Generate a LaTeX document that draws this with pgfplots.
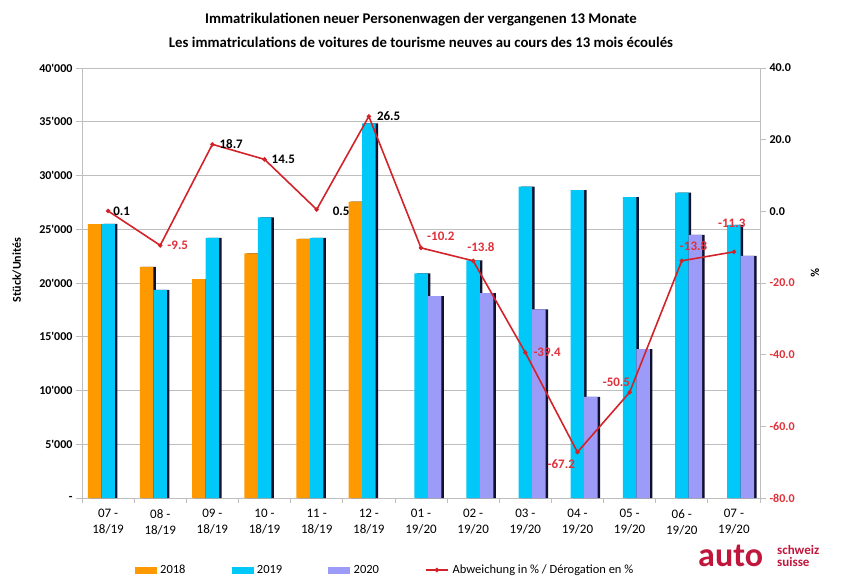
\documentclass[border=0pt]{standalone}
\usepackage{pgfplots}
\pgfplotsset{compat=1.18}
\usepackage{fontspec}
\setmainfont{Carlito}
\newfontfamily\numfont{Carlito}
\definecolor{c18}{HTML}{FF9900}
\definecolor{c19}{HTML}{00C8F8}
\definecolor{c20}{HTML}{9C9CF8}
\definecolor{lred}{HTML}{D2232A}
\definecolor{tred}{HTML}{E0303A}
\definecolor{shad}{HTML}{101030}
\definecolor{gridc}{HTML}{BEBEBE}
\definecolor{logo}{HTML}{C0163C}
\pgfplotsset{
  lineleg/.style={legend image code/.code={\draw[##1, mark repeat=2, mark phase=2] plot coordinates {(0pt,0pt) (11pt,0pt) (22pt,0pt)};}},
  sq18/.style={legend image code/.code={\fill[c18] (0pt,-3pt) rectangle (21pt,3pt);}},
  sq19/.style={legend image code/.code={\fill[c19] (0pt,-3pt) rectangle (21pt,3pt);}},
  sq20/.style={legend image code/.code={\fill[c20] (0pt,-3pt) rectangle (21pt,3pt);}},
}
\begin{document}
\begin{tikzpicture}
\path[use as bounding box] (0,0) rectangle (845pt,-576pt);
\begin{axis}[
  at={(82pt,-498pt)}, anchor=south west, scale only axis,
  width=678pt, height=430pt,
  xmin=-0.5, xmax=12.5, ymin=0, ymax=40000,
  scaled y ticks=false,
  axis x line*=bottom, axis y line*=left,
  axis line style={gridc, line width=0.8pt},
  ytick={0,5000,...,40000},
  yticklabels={-,5'000,10'000,15'000,20'000,25'000,30'000,35'000,40'000},
  yticklabel style={font=\numfont\bfseries\fontsize{12}{14}\selectfont},
  ymajorgrids, grid style={gridc, line width=0.8pt},
  xtick={0,...,12},
  xticklabels={{07 -\\18/19},{08 -\\18/19},{09 -\\18/19},{10 -\\18/19},{11 -\\18/19},{12 -\\18/19},{01 -\\19/20},{02 -\\19/20},{03 -\\19/20},{04 -\\19/20},{05 -\\19/20},{06 -\\19/20},{07 -\\19/20}},
  xticklabel style={align=center, font=\fontsize{13}{16}\selectfont, yshift=-2pt},
  major x tick style={draw=none},
  minor xtick={-0.5,0.5,...,12.5},
  minor x tick style={gridc, line width=0.8pt},
  tick align=outside, major tick length=6pt, minor tick length=5pt,
  y tick style={gridc, line width=0.8pt},
  ybar, bar width=13.5pt,
  clip=false,
]
\addplot[fill=shad, draw=none, bar shift=-11pt] coordinates {(0,25480) (1,21500) (2,20370) (3,22760) (4,24100) (5,27560)};
\addplot[fill=c18, draw=none, bar shift=-13.5pt] coordinates {(0,25480) (1,21500) (2,20370) (3,22760) (4,24100) (5,27560)};
\addplot[fill=shad, draw=none, bar shift=2.5pt] coordinates {(0,25500) (1,19350) (2,24200) (3,26100) (4,24200) (5,34860) (6,20900) (7,22100) (8,28960) (9,28650) (10,28000) (11,28400) (12,25400)};
\addplot[fill=c19, draw=none, bar shift=0pt] coordinates {(0,25500) (1,19350) (2,24200) (3,26100) (4,24200) (5,34860) (6,20900) (7,22100) (8,28960) (9,28650) (10,28000) (11,28400) (12,25400)};
\addplot[fill=shad, draw=none, bar shift=16pt] coordinates {(6,18770) (7,19050) (8,17550) (9,9400) (10,13860) (11,24480) (12,22530)};
\addplot[fill=c20, draw=none, bar shift=13.5pt] coordinates {(6,18770) (7,19050) (8,17550) (9,9400) (10,13860) (11,24480) (12,22530)};
\end{axis}
\begin{axis}[
  at={(82pt,-498pt)}, anchor=south west, scale only axis,
  width=678pt, height=430pt,
  xmin=-0.5, xmax=12.5, ymin=-80, ymax=40,
  axis x line=none, axis y line*=right,
  axis line style={gridc, line width=0.8pt},
  ytick={-80,-60,...,40},
  yticklabels={\textcolor{tred}{-80.0},\textcolor{tred}{-60.0},\textcolor{tred}{-40.0},\textcolor{tred}{-20.0},0.0,20.0,40.0},
  yticklabel style={font=\bfseries\fontsize{12}{14}\selectfont},
  tick align=outside, major tick length=6pt,
  y tick style={gridc, line width=0.8pt},
  clip=false,
  legend columns=4,
  legend style={draw=none, fill=none, at={(0.447,-0.1674)}, anchor=center,
    font=\fontsize{12.5}{15}\selectfont, inner sep=0pt,
    /tikz/every even column/.append style={column sep=44pt},
    /tikz/every odd column/.append style={column sep=2pt}},
  legend cell align=left,
]
\addlegendimage{sq18}
\addlegendentry{2018}
\addlegendimage{sq19}
\addlegendentry{2019}
\addlegendimage{sq20}
\addlegendentry{2020}
\addplot[lred, line width=1.6pt, mark=*, mark size=1.3pt, lineleg]
  coordinates {(0,0.1) (1,-9.5) (2,18.7) (3,14.5) (4,0.5) (5,26.5) (6,-10.2) (7,-13.8) (8,-39.4) (9,-67.2) (10,-50.5) (11,-13.8) (12,-11.3)};
\addlegendentry{Abweichung in \% / Dérogation en \%}
\tikzset{lab/.style={font=\bfseries\fontsize{13}{15}\selectfont, anchor=west, inner sep=0pt}}
\node[lab, xshift=5pt] at (axis cs:0,0.1) {0.1};
\node[lab, text=tred, xshift=7pt] at (axis cs:1,-9.5) {-9.5};
\node[lab, xshift=7pt] at (axis cs:2,18.7) {18.7};
\node[lab, xshift=7pt] at (axis cs:3,14.5) {14.5};
\node[lab, xshift=16pt, yshift=-2pt] at (axis cs:4,0.5) {0.5};
\node[lab, xshift=8pt] at (axis cs:5,26.5) {26.5};
\node[lab, text=tred, xshift=6pt, yshift=12pt] at (axis cs:6,-10.2) {-10.2};
\node[lab, text=tred, xshift=-6pt, yshift=14pt] at (axis cs:7,-13.8) {-13.8};
\node[lab, text=tred, xshift=8pt] at (axis cs:8,-39.4) {-39.4};
\node[lab, text=tred, xshift=-30pt, yshift=-12pt] at (axis cs:9,-67.2) {-67.2};
\node[lab, text=tred, xshift=-27pt, yshift=10pt] at (axis cs:10,-50.5) {-50.5};
\node[lab, text=tred, xshift=-2pt, yshift=15pt] at (axis cs:11,-13.8) {-13.8};
\node[lab, text=tred, xshift=-16pt, yshift=29pt] at (axis cs:12,-11.3) {-11.3};
\end{axis}
\node[font=\bfseries\fontsize{14.8}{17}\selectfont] at (421pt,-20pt) {Immatrikulationen neuer Personenwagen der vergangenen 13 Monate};
\node[font=\bfseries\fontsize{14.8}{17}\selectfont] at (421pt,-42pt) {Les immatriculations de voitures de tourisme neuves au cours des 13 mois écoulés};
\node[rotate=90, font=\bfseries\fontsize{12}{14}\selectfont] at (17pt,-270pt) {Stück/Unités};
\node[rotate=-90, font=\bfseries\fontsize{12}{14}\selectfont] at (815pt,-273pt) {\%};
\node[anchor=base west, text=logo, font=\bfseries\fontsize{34}{34}\selectfont, inner sep=0pt] at (698pt,-566pt) {auto};
\node[anchor=base west, text=logo, font=\bfseries\fontsize{13}{13}\selectfont, inner sep=0pt] at (777pt,-554pt) {schweiz};
\node[anchor=base west, text=logo, font=\bfseries\fontsize{13}{13}\selectfont, inner sep=0pt] at (777pt,-566pt) {suisse};
\end{tikzpicture}
\end{document}
